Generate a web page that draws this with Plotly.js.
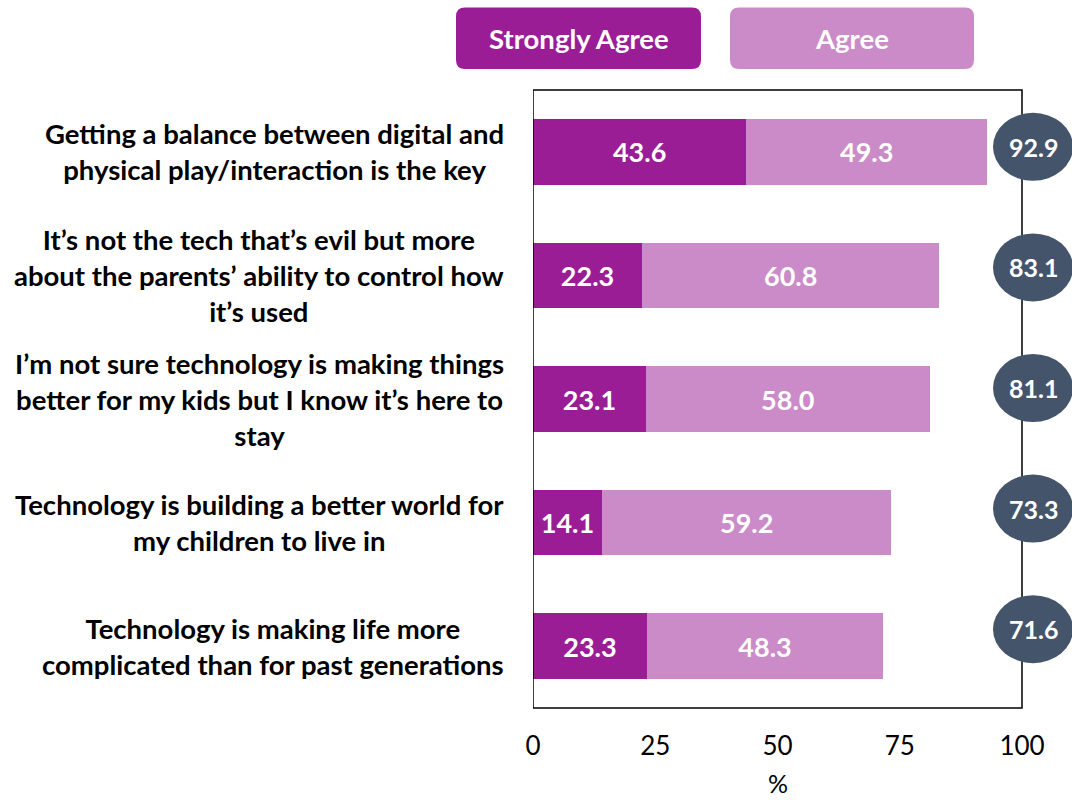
<!DOCTYPE html>
<html>
<head>
<meta charset="utf-8">
<script src="https://cdn.plot.ly/plotly-3.0.1.min.js"></script>
<style>html,body{margin:0;padding:0;background:#fff;}#chart{width:1072px;height:800px;}</style>
</head>
<body>
<div id="chart"></div>
<script>
// ---- data ----
const categories = [
  "Getting a balance between digital and<br>physical play/interaction is the key",
  "It\u2019s not the tech that\u2019s evil but more<br>about the parents\u2019 ability to control how<br>it\u2019s used",
  "I\u2019m not sure technology is making things<br>better for my kids but I know it\u2019s here to<br>stay",
  "Technology is building a better world for<br>my children to live in",
  "Technology is making life more<br>complicated than for past generations"
];
const seriesNames = ["Strongly Agree", "Agree"];
const stronglyAgree = [43.6, 22.3, 23.1, 14.1, 23.3];
const agree = [49.3, 60.8, 58.0, 59.2, 48.3];
const totals = [92.9, 83.1, 81.1, 73.3, 71.6];
const xTicks = [0, 25, 50, 75, 100];
const xTitle = "%";

// ---- styling / layout geometry ----
const W = 1072, H = 800;
const mL = 533, mR = 0, mT = 90, mB = 92;
const pw = W - mL - mR, ph = H - mT - mB;
const pxPerUnit = 4.89;
const xMax = pw / pxPerUnit;
const catPx = ph / categories.length;
const X = px => (px - mL) / pw;
const Y = py => (H - mB - py) / ph;
const colStrong = "#9B1D96", colAgree = "#CA8BC8", colCircle = "#44546A";
const fontFam = "Lato, 'Open Sans', sans-serif";

const idx = categories.map((c, i) => i);

const barText = {color: "#fff", size: 27, family: fontFam, weight: 700};
const traces = [
  {
    type: "bar", orientation: "h", name: seriesNames[0],
    y: idx, x: stronglyAgree, width: 0.53,
    marker: {color: colStrong},
    texttemplate: "%{x:.1f}", textposition: "inside", insidetextanchor: "middle",
    constraintext: "none", textfont: barText, hoverinfo: "skip"
  },
  {
    type: "bar", orientation: "h", name: seriesNames[1],
    y: idx, x: agree, width: 0.53,
    marker: {color: colAgree},
    texttemplate: "%{x:.1f}", textposition: "inside", insidetextanchor: "middle",
    constraintext: "none", textfont: barText, hoverinfo: "skip"
  }
];

const shapes = [];
const annotations = [];

// plot frame (0..100)
shapes.push({type: "rect", xref: "x", yref: "paper", x0: 0, x1: 100, y0: 0, y1: 1,
  line: {color: "#000", width: 1.5}, fillcolor: "rgba(0,0,0,0)", layer: "above"});

// total circles
const circCx = 102.25, circHalfW = 40 / pxPerUnit, circHalfH = 34 / catPx;
totals.forEach((t, i) => {
  const cy = i - (5 + 3 * i) / catPx;
  shapes.push({type: "circle", xref: "x", yref: "y",
    x0: circCx - circHalfW, x1: circCx + circHalfW, y0: cy - circHalfH, y1: cy + circHalfH,
    fillcolor: colCircle, line: {width: 0}, layer: "above"});
  annotations.push({xref: "x", yref: "y", x: circCx, y: cy, text: t.toFixed(1), showarrow: false,
    font: {color: "#fff", size: 25, family: fontFam, weight: 700}, xanchor: "center", yanchor: "middle"});
});

// category labels
categories.forEach((c, i) => {
  annotations.push({xref: "paper", yref: "y", x: X(506), y: i, xanchor: "right", yanchor: "middle",
    text: c, align: "center", showarrow: false,
    font: {color: "#000", size: 27.5, family: fontFam, weight: 700}});
});

// x-axis title centred under the 0..100 frame
annotations.push({xref: "x", yref: "paper", x: 50, y: Y(783), text: xTitle, showarrow: false,
  xanchor: "center", yanchor: "middle", borderpad: 0,
  font: {size: 25, color: "#000", family: fontFam}});

// legend boxes (rounded)
function rrect(x0, y0, x1, y1, r) {
  const p = (x, y) => X(x) + "," + Y(y);
  return "M" + p(x0 + r, y0) + " L" + p(x1 - r, y0) + " Q" + p(x1, y0) + " " + p(x1, y0 + r) +
    " L" + p(x1, y1 - r) + " Q" + p(x1, y1) + " " + p(x1 - r, y1) +
    " L" + p(x0 + r, y1) + " Q" + p(x0, y1) + " " + p(x0, y1 - r) +
    " L" + p(x0, y0 + r) + " Q" + p(x0, y0) + " " + p(x0 + r, y0) + " Z";
}
const legBoxes = [[456, 7.5, 701, 69], [730, 7.5, 974, 69]];
const legCols = [colStrong, colAgree];
legBoxes.forEach((b, k) => {
  shapes.push({type: "path", xref: "paper", yref: "paper", path: rrect(b[0], b[1], b[2], b[3], 9),
    fillcolor: legCols[k], line: {width: 0}, layer: "above"});
  annotations.push({xref: "paper", yref: "paper", x: X((b[0] + b[2]) / 2), y: Y((b[1] + b[3]) / 2),
    text: seriesNames[k], showarrow: false, xanchor: "center", yanchor: "middle",
    font: {color: "#fff", size: 27.5, family: fontFam, weight: 700}});
});

const layout = {
  width: W, height: H, autosize: false,
  margin: {l: mL, r: mR, t: mT, b: mB, pad: 0},
  paper_bgcolor: "#fff", plot_bgcolor: "#fff",
  barmode: "stack", showlegend: false, hovermode: false,
  xaxis: {range: [0, xMax], tickvals: xTicks, ticktext: xTicks.map(String),
    showgrid: false, zeroline: false, showline: false, ticks: "",
    ticklabelstandoff: 20,
    tickfont: {size: 26, color: "#000", family: fontFam}},
  yaxis: {type: "linear", range: [categories.length - 0.5, -0.5], showticklabels: false,
    showgrid: false, zeroline: false, showline: false, ticks: ""},
  shapes: shapes,
  annotations: annotations
};

Plotly.newPlot("chart", traces, layout, {displayModeBar: false, staticPlot: true});
</script>
</body>
</html>
